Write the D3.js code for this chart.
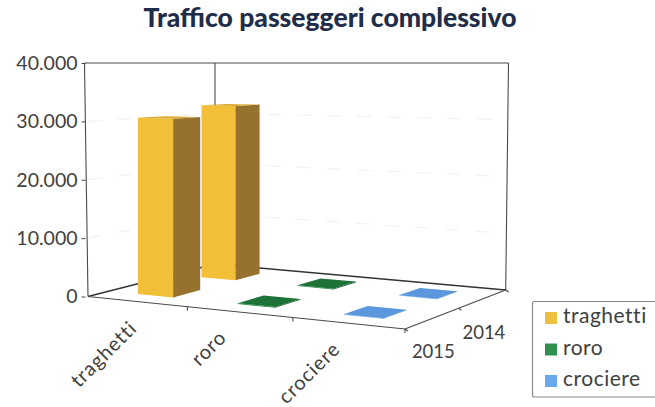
<!DOCTYPE html>
<html>
<head>
<meta charset="utf-8">
<script src="https://cdn.jsdelivr.net/npm/d3@7"></script>
<style>
html,body{margin:0;padding:0;background:#fff}
svg{display:block}
text{font-family:Lato,"Open Sans",sans-serif}
</style>
</head>
<body>
<svg id="c" width="655" height="407"></svg>
<script>
const categories = ["traghetti", "roro", "crociere"];
const years = ["2015", "2014"];
const values2015 = [30500, 150, 60];
const values2014 = [32100, 150, 60];
const yTicks = [0, 10000, 20000, 30000, 40000];
const titleText = "Traffico passeggeri complessivo";

const faceColors = {
  traghetti: {front: "#f1bf38", side: "#97722f", top: "#dcab35", key: "#edc03f"},
  roro: {front: "#2b8a47", side: "#15592c", top: "#1d7238", key: "#2f9150"},
  crociere: {front: "#62a2e6", side: "#4a7fbe", top: "#5b97dc", key: "#6aa9ee"}
};
const ink = "#404040";

const svg = d3.select("#c");
const fmt = d3.formatLocale({decimal: ",", thousands: ".", grouping: [3], currency: ["", "€"]}).format(",d");

// floor plane: corners of the projected unit square
const A = [88, 296.5], B = [405, 329], C = [505.7, 290], D = [215, 264];
const dx1 = B[0]-C[0], dx2 = D[0]-C[0], sx = A[0]-B[0]+C[0]-D[0];
const dy1 = B[1]-C[1], dy2 = D[1]-C[1], sy = A[1]-B[1]+C[1]-D[1];
const den = dx1*dy2-dx2*dy1;
const g = (sx*dy2-dx2*sy)/den, h = (dx1*sy-sx*dy1)/den;
const a = B[0]-A[0]+g*B[0], b = D[0]-A[0]+h*D[0], c0 = A[0];
const d = B[1]-A[1]+g*B[1], e = D[1]-A[1]+h*D[1], f = A[1];
function floor(u, v) {
  const s = u/categories.length, t = v/years.length, w = g*s+h*t+1;
  return [(a*s+b*t+c0)/w, (d*s+e*t+f)/w];
}
const wallTop = 63;
function project(u, v, val) {
  const p = floor(u, v);
  const y = d3.scaleLinear().domain([0, 40000]).range([p[1], wallTop]);
  return [p[0], y(val)];
}

// faint gridlines on the walls
const gridG = svg.append("g");
yTicks.slice(1, -1).forEach(t => {
  const yB = d3.scaleLinear().domain([0, 40000]).range([D[1], wallTop])(t);
  const yA = d3.scaleLinear().domain([0, 40000]).range([A[1], wallTop])(t);
  const yC = d3.scaleLinear().domain([0, 40000]).range([C[1], wallTop])(t);
  gridG.append("polyline").attr("points", [[A[0], yA], [D[0], yB], [C[0], yC]].join(" "))
    .attr("fill", "none").attr("stroke", "#f0f0f0").attr("stroke-dasharray", "14 16");
});

// walls and floor
const frame = svg.append("g").attr("fill", "none").attr("stroke", "#4a4a4a").attr("stroke-width", 1.1);
const ln = (p, q) => frame.append("line").attr("x1", p[0]).attr("y1", p[1]).attr("x2", q[0]).attr("y2", q[1]);
ln([84.5, wallTop], [88, A[1]]);
ln([84.5, wallTop], [508.5, wallTop]);
ln([215, wallTop], D);
ln([508.5, wallTop], C);
ln(A, D).attr("stroke-width", 1.4).attr("stroke", "#333");
ln(D, C).attr("stroke-width", 1.4).attr("stroke", "#333");
ln(A, B);
ln(B, C);
d3.range(1, categories.length+1).forEach(i => {
  const p = floor(i, 0);
  ln(p, [p[0], p[1]+4]);
});
d3.range(0, years.length+1).forEach(i => {
  const p = floor(categories.length, i);
  ln(p, [p[0]+3, p[1]+2]);
});

// y axis, through a d3 axis on the front-left edge
const yAxisScale = d3.scaleLinear().domain([0, 40000]).range([A[1], wallTop]);
const yAxis = svg.append("g").attr("transform", "translate(85.5,0)")
  .call(d3.axisLeft(yAxisScale).tickValues(yTicks).tickFormat(fmt).tickSize(4).tickPadding(4));
yAxis.select(".domain").remove();
yAxis.selectAll("line").attr("stroke", "#4a4a4a");
yAxis.selectAll("text").attr("font-size", 19.5).attr("fill", ink).style("font-family", "Lato");

// boxes, back row first
const uInset = 0.30, uWidth = 0.36, vInset = 0.30, vDepth = 0.42;
const rows = [{v: 1, vals: values2014}, {v: 0, vals: values2015}];
const poly = d3.line();
const marks = svg.append("g");
rows.forEach(r => {
  categories.forEach((cat, i) => {
    const u0 = i+uInset, u1 = u0+uWidth, v0 = r.v+vInset, v1 = v0+vDepth, val = r.vals[i];
    const col = faceColors[cat];
    const fl = project(u0, v0, 0), fr = project(u1, v0, 0), br = project(u1, v1, 0);
    const tfl = project(u0, v0, val), tfr = project(u1, v0, val), tbr = project(u1, v1, val), tbl = project(u0, v1, val);
    const g = marks.append("g").attr("class", "box").attr("data-cat", cat);
    g.append("path").attr("d", poly([fl, fr, tfr, tfl]) + "Z").attr("fill", col.front);
    g.append("path").attr("d", poly([fr, br, tbr, tfr]) + "Z").attr("fill", col.side);
    g.append("path").attr("d", poly([tfl, tfr, tbr, tbl]) + "Z").attr("fill", col.top);
  });
});

// category labels
const labelAnchor = [0.5, 1.38, 2.43];
categories.forEach((cat, i) => {
  const p = floor(labelAnchor[i], 0);
  svg.append("text").attr("text-anchor", "end")
    .attr("transform", `translate(${p[0]+1},${p[1]+28}) rotate(-45)`)
    .attr("font-size", 20).attr("letter-spacing", 0.9).attr("fill", ink).text(cat);
});

// year labels
years.forEach((yr, i) => {
  const p = floor(categories.length, i+0.45);
  svg.append("text").attr("x", p[0]-18).attr("y", p[1]+39)
    .attr("font-size", 18.5).attr("fill", ink).text(yr);
});

// title
svg.append("text").attr("x", 330).attr("y", 27).attr("text-anchor", "middle")
  .attr("font-size", 26.5).attr("font-weight", 900).attr("fill", "#1e2d49").text(titleText);

// legend
const legend = svg.append("g");
legend.append("rect").attr("x", 532.5).attr("y", 301.5).attr("width", 130).attr("height", 95.5).attr("rx", 2)
  .attr("fill", "#fff").attr("stroke", "#8a8a8a").attr("stroke-width", 1.2);
const legendY = d3.scalePoint().domain(categories).range([323, 386]);
categories.forEach(cat => {
  legend.append("rect").attr("x", 545).attr("y", legendY(cat)-11).attr("width", 12).attr("height", 12)
    .attr("fill", faceColors[cat].key);
  legend.append("text").attr("x", 563).attr("y", legendY(cat))
    .attr("font-size", 21).attr("letter-spacing", 0.5).attr("fill", ink).text(cat);
});
</script>
</body>
</html>
